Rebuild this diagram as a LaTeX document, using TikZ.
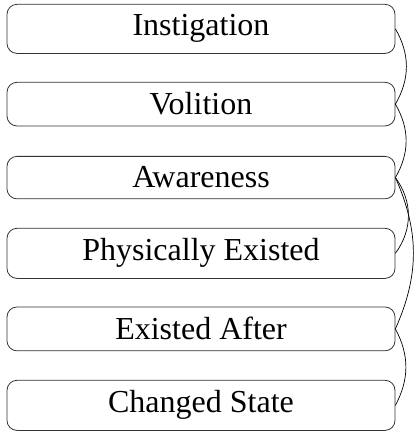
\documentclass[tikz,border=0pt]{standalone}
\usepackage{fontspec}
\setmainfont{Liberation Serif}
\begin{document}
\begin{tikzpicture}[x=1pt,y=1pt,
  role/.style={draw=black!80, line width=0.8pt, rounded corners=10pt,
    minimum width=388pt, inner ysep=10.5pt, anchor=base,
    font=\fontsize{32}{38}\selectfont},
  link/.style={line width=0.7pt, black}]
\useasboundingbox (0,0) rectangle (413,431);
\node[role] (ins) at (201,395) {Instigation};
\node[role] (vol) at (201,316) {Volition};
\node[role] (awa) at (201,243) {Awareness};
\node[role] (phy) at (201,170) {Physically Existed};
\node[role] (aft) at (201,91) {Existed After};
\node[role] (chg) at (201,18) {Changed State};
\draw[link] (ins.east) to[bend left=30] (vol.east);
\draw[link] (vol.east) to[bend left=30] (awa.east);
\draw[link] (awa.east) to[bend left=36] (phy.east);
\draw[link] (awa.east) to[bend left=24] (aft.east);
\draw[link] (aft.east) to[bend left=28] (chg.east);
\end{tikzpicture}
\end{document}
